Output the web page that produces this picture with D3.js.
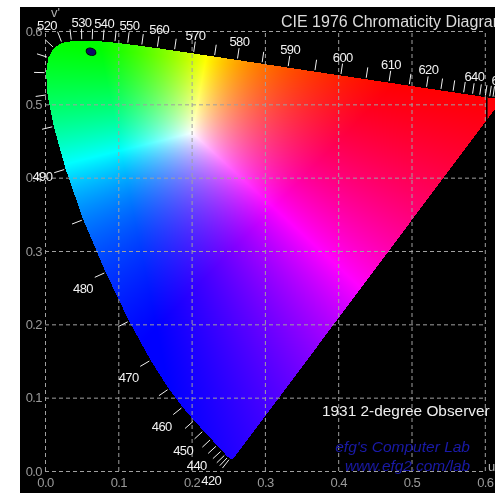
<!DOCTYPE html>
<html><head><meta charset="utf-8">
<script src="https://cdn.jsdelivr.net/npm/d3@7"></script>
<style>
html,body{margin:0;padding:0;background:#fff;overflow:hidden}
#wrap{position:relative;width:495px;height:493px}
canvas,svg{position:absolute;left:0;top:0}
text{font-family:"Liberation Sans",Arial,sans-serif}
</style></head><body>
<div id="wrap"><canvas id="cv" width="495" height="493"></canvas><svg id="sv" width="495" height="493"></svg></div>
<script>
// CIE 1931 2-degree spectral locus (x, y), 380..700 nm every 5 nm
const wavelengths = d3.range(380, 701, 5);
const locusX = [0.1741,0.1740,0.1738,0.1736,0.1733,0.1730,0.1726,0.1721,
  0.1714,0.1703,0.1689,0.1669,0.1644,0.1611,0.1566,0.1510,
  0.1440,0.1355,0.1241,0.1096,0.0913,0.0687,0.0454,0.0235,
  0.0082,0.0039,0.0139,0.0389,0.0743,0.1142,0.1547,0.1929,
  0.2296,0.2658,0.3016,0.3373,0.3731,0.4087,0.4441,0.4788,
  0.5125,0.5448,0.5752,0.6029,0.6270,0.6482,0.6658,0.6801,
  0.6915,0.7006,0.7079,0.7140,0.7190,0.7230,0.7260,0.7283,
  0.7300,0.7311,0.7320,0.7327,0.7334,0.7340,0.7344,0.7346,0.7347];
const locusY = [0.0050,0.0050,0.0049,0.0049,0.0048,0.0048,0.0048,0.0048,
  0.0051,0.0058,0.0069,0.0086,0.0109,0.0138,0.0177,0.0227,
  0.0297,0.0399,0.0578,0.0868,0.1327,0.2007,0.2950,0.4127,
  0.5384,0.6548,0.7502,0.8120,0.8338,0.8262,0.8059,0.7816,
  0.7543,0.7243,0.6923,0.6589,0.6245,0.5896,0.5547,0.5202,
  0.4866,0.4544,0.4242,0.3965,0.3725,0.3514,0.3340,0.3197,
  0.3083,0.2993,0.2920,0.2859,0.2809,0.2770,0.2740,0.2717,
  0.2700,0.2689,0.2680,0.2673,0.2666,0.2660,0.2656,0.2654,0.2653];
const tickWavelengths = d3.range(420, 701, 5);
const labelWavelengths = [420,440,450,460,470,480,490,520,530,540,550,560,570,580,590,600,610,620,640,680];
const axisTicks = [0, 0.1, 0.2, 0.3, 0.4, 0.5, 0.6];
const markerUV = [0.0628, 0.5717];
const titleText = "CIE 1976 Chromaticity Diagram";
const observerText = "1931 2-degree Observer";
const creditLines = ["efg's Computer Lab", "www.efg2.com/lab"];

const W = 495, H = 493;
const xS = d3.scaleLinear().domain([0, 0.6]).range([45, 484.8]);
const yS = d3.scaleLinear().domain([0, 0.6]).range([471, 31]);

function toUV(x, y) { const d = -2*x + 12*y + 3; return [4*x/d, 9*y/d]; }
const uv = wavelengths.map((w, i) => toUV(locusX[i], locusY[i]));
const poly = uv.map(([u, v]) => [xS(u), yS(v)]);

// ---- colour fill on canvas (NTSC primaries, linear, max-normalised)
const cv = document.getElementById('cv');
const ctx = cv.getContext('2d');
ctx.fillStyle = '#000';
ctx.fillRect(20, 7, W - 20, H - 7);
const img = ctx.getImageData(0, 0, W, H);
const data = img.data;
const xs = poly.map(p => p[0]), ys = poly.map(p => p[1]);
const x0 = Math.max(20, Math.floor(d3.min(xs))), x1 = Math.min(W-1, Math.ceil(d3.max(xs)));
const y0 = Math.max(7, Math.floor(d3.min(ys))), y1 = Math.min(H-1, Math.ceil(d3.max(ys)));
for (let py = y0; py <= y1; py++) {
  for (let px = x0; px <= x1; px++) {
    const cx = px + 0.5, cy = py + 0.5;
    if (!d3.polygonContains(poly, [cx, cy])) continue;
    const u = xS.invert(cx), v = yS.invert(cy);
    const d = 6*u - 16*v + 12;
    const x = 9*u/d, y = 4*v/d;
    const X = x/y, Y = 1, Z = (1 - x - y)/y;
    let r = 1.9100*X - 0.5325*Y - 0.2882*Z;
    let g = -0.9847*X + 1.9992*Y - 0.0283*Z;
    let b = 0.0583*X - 0.1184*Y + 0.8976*Z;
    r = Math.max(0, r); g = Math.max(0, g); b = Math.max(0, b);
    const m = Math.max(r, g, b) || 1;
    const k = 4*(py*W + px);
    data[k] = Math.round(255*r/m);
    data[k+1] = Math.round(255*g/m);
    data[k+2] = Math.round(255*b/m);
    data[k+3] = 255;
  }
}
ctx.putImageData(img, 0, 0);

// ---- SVG overlay
const svg = d3.select('#sv');
const gridColor = '#a0a0a0';

const yAxis = d3.axisLeft(yS).tickValues(axisTicks).tickFormat(d3.format('.1f'))
  .tickSize(-(xS(0.6) - xS(0))).tickPadding(3);
const gy = svg.append('g').attr('transform', `translate(${xS(0)},0)`).call(yAxis);
const xAxis = d3.axisBottom(xS).tickValues(axisTicks).tickFormat(d3.format('.1f'))
  .tickSize(-(yS(0) - yS(0.6))).tickPadding(7);
const gx = svg.append('g').attr('transform', `translate(0,${yS(0)})`).call(xAxis);
[gx, gy].forEach(g => {
  g.select('.domain').remove();
  g.selectAll('line').attr('stroke', gridColor).attr('stroke-dasharray', '4,3').attr('stroke-width', 1);
  g.selectAll('text').attr('fill', '#9a9a9a').attr('font-size', 13).attr('letter-spacing', -0.6)
   .style('font-family', '"Liberation Sans",Arial,sans-serif');
});

// black right border line over the red end
svg.append('line').attr('x1', xS(0.6) + 2).attr('x2', xS(0.6) + 2)
  .attr('y1', yS(0.6)).attr('y2', yS(0)).attr('stroke', '#000').attr('stroke-width', 1.5);

// spectral ticks
function normalAt(w) {
  const i = wavelengths.indexOf(w);
  const a = poly[Math.max(0, i-1)], b = poly[Math.min(poly.length-1, i+1)];
  let tx = b[0]-a[0], ty = b[1]-a[1];
  const L = Math.hypot(tx, ty) || 1; tx /= L; ty /= L;
  return [ty, -tx];
}
const tg = svg.append('g');
tickWavelengths.forEach(w => {
  const p = poly[wavelengths.indexOf(w)], n = normalAt(w);
  tg.append('line')
    .attr('x1', p[0] + n[0]*1.5).attr('y1', p[1] + n[1]*1.5)
    .attr('x2', p[0] + n[0]*12).attr('y2', p[1] + n[1]*12)
    .attr('stroke', '#f0f0f0').attr('stroke-width', 1);
});
labelWavelengths.forEach(w => {
  const p = poly[wavelengths.indexOf(w)], n = normalAt(w);
  const ex = p[0] + n[0]*14, ey = p[1] + n[1]*14;
  let anchor = 'middle', by;
  if (n[0] < -0.3) anchor = 'end';
  if (n[1] > 0.35) by = ey + 15;
  else if (n[1] < -0.35) by = ey;
  else by = ey + 8;
  tg.append('text').attr('x', ex).attr('y', by).attr('text-anchor', anchor)
    .attr('fill', '#f2f2f2').attr('font-size', 13).attr('letter-spacing', -0.6).text(w);
});

// marker
svg.append('ellipse').attr('cx', xS(markerUV[0])).attr('cy', yS(markerUV[1]))
  .attr('rx', 5).attr('ry', 3.6)
  .attr('transform', `rotate(20,${xS(markerUV[0])},${yS(markerUV[1])})`)
  .attr('fill', '#0c0c66').attr('stroke', '#000').attr('stroke-width', 1);

// texts
svg.append('text').attr('x', 281).attr('y', 27).attr('fill', '#dcdcdc').attr('font-size', 16).text(titleText);
svg.append('text').attr('x', 322).attr('y', 416).attr('fill', '#eeeeee').attr('font-size', 15.4).text(observerText);
svg.append('text').attr('x', 470).attr('y', 452).attr('text-anchor', 'end').attr('fill', '#1a1aa8')
  .attr('font-size', 15.5).attr('font-style', 'italic').text(creditLines[0]);
svg.append('text').attr('x', 470).attr('y', 471).attr('text-anchor', 'end').attr('fill', '#1a1aa8')
  .attr('font-size', 15.4).attr('font-style', 'italic').text(creditLines[1]);
svg.append('text').attr('x', 51).attr('y', 17).attr('fill', '#b0b0b0').attr('font-size', 13).text("v'");
svg.append('text').attr('x', 488).attr('y', 471).attr('fill', '#b0b0b0').attr('font-size', 13).text("u'");
</script>
</body></html>
